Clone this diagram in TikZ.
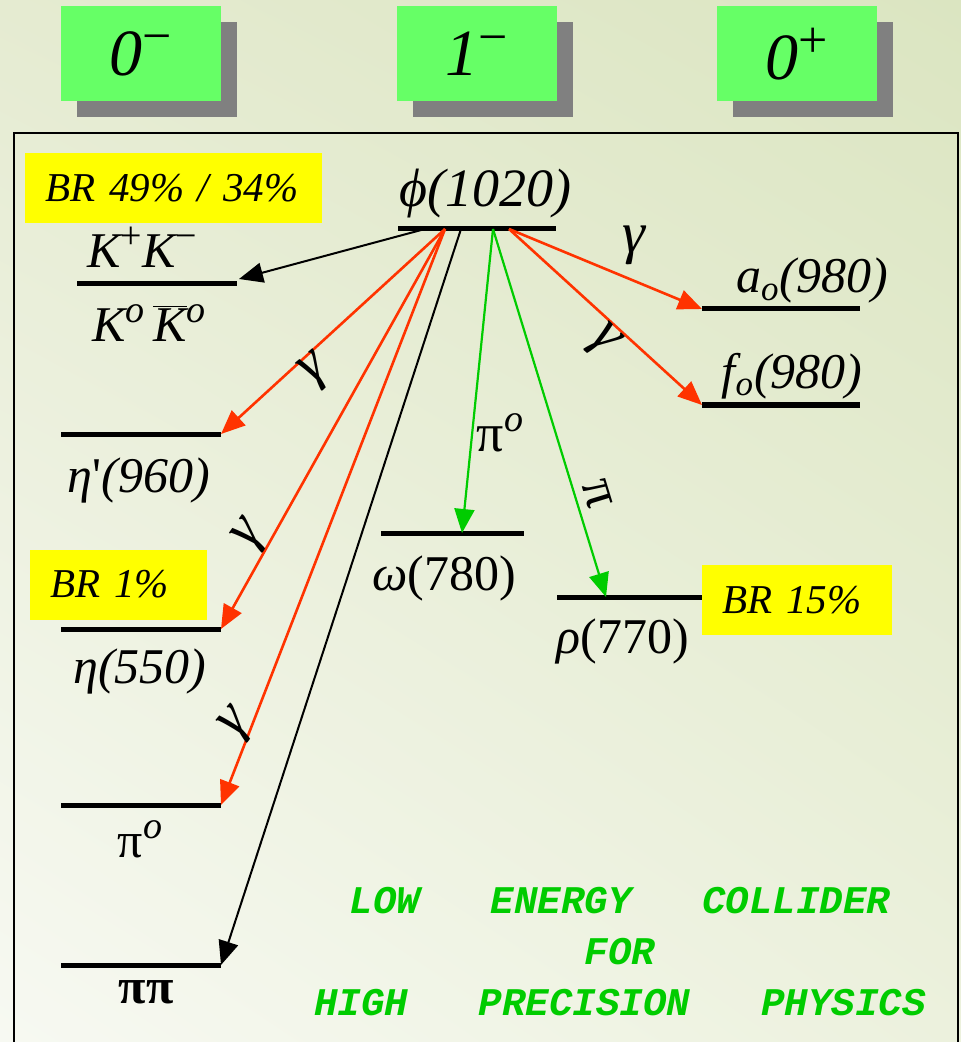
\documentclass[tikz,border=0pt]{standalone}
\usepackage{fontspec}
\setmainfont{Liberation Serif}
\setmonofont{Liberation Mono}
\usetikzlibrary{arrows.meta,shadows,shadings}

\definecolor{jpgreen}{HTML}{66FF66}
\definecolor{bryellow}{HTML}{FFFF00}
\definecolor{gamred}{HTML}{FF3300}
\definecolor{pigreen}{HTML}{00CC00}
\definecolor{bgUL}{HTML}{E5EBD1}
\definecolor{bgUR}{HTML}{DBE5C1}
\definecolor{bgLL}{HTML}{F7F9F2}
\definecolor{bgLR}{HTML}{ECF1DD}

% raised indices, a bit larger than \textsuperscript
\newcommand\jpsup[1]{\raisebox{0.33em}{\fontsize{26}{26}\selectfont\upshape #1}}
\newcommand\ksup[1]{\raisebox{0.38em}{\fontsize{19}{19}\selectfont #1}}

\tikzset{
  jpbox/.style={fill=jpgreen, minimum width=80pt, minimum height=47.5pt, inner sep=0pt,
    drop shadow={shadow xshift=8pt, shadow yshift=-8pt, fill=black!50, opacity=1},
    font=\fontsize{33}{36}\selectfont\itshape},
  brbox/.style={fill=bryellow, anchor=west, align=left, inner xsep=10pt, minimum height=35pt,
    font=\fontsize{20.5}{24}\selectfont\itshape},
  levelline/.style={line width=2.5pt},
  lvltext/.style={anchor=base, inner sep=0pt, font=\fontsize{25}{28}\selectfont},
  glabel/.style={inner sep=0pt, font=\fontsize{29}{30}\selectfont\itshape},
  decay/.style={-{Triangle[length=12pt,width=10pt]}},
  redarr/.style={decay, draw=gamred, fill=gamred, line width=1.3pt},
  grnarr/.style={decay, draw=pigreen, fill=pigreen, line width=1.1pt},
  blkarr/.style={decay, draw=black, line width=1pt},
  motto/.style={align=center, text=pigreen,
    font=\fontsize{19.6}{25.5}\selectfont\ttfamily\bfseries\itshape}
}

\begin{document}
\begin{tikzpicture}[x=0.5pt,y=-0.5pt]
  \useasboundingbox (0,0) rectangle (961,1042);
  % background and frame
  \shade[upper left=bgUL, upper right=bgUR, lower left=bgLL, lower right=bgLR]
    (0,0) rectangle (961,1042);
  \draw[line width=0.7pt] (14,133) rectangle (958,1060);

  % spin-parity headers
  \node[jpbox] (jp0m) at (141,54) {0\jpsup{−}};
  \node[jpbox] (jp1m) at (477,54) {1\jpsup{−}};
  \node[jpbox] (jp0p) at (797,54) {0\jpsup{+}};

  % levels
  \coordinate (kkL) at (77,284);    \coordinate (kkR) at (237,284);
  \coordinate (phiL) at (398,229);  \coordinate (phiR) at (556,229);
  \coordinate (a0L) at (702,309);   \coordinate (a0R) at (860,309);
  \coordinate (f0L) at (702,405);   \coordinate (f0R) at (860,405);
  \coordinate (etapL) at (61,434);  \coordinate (etapR) at (221,434);
  \coordinate (etaL) at (61,629);   \coordinate (etaR) at (221,629);
  \coordinate (pizL) at (61,805);   \coordinate (pizR) at (221,805);
  \coordinate (pipiL) at (61,965);  \coordinate (pipiR) at (221,965);
  \coordinate (omgL) at (381,533);  \coordinate (omgR) at (524,533);
  \coordinate (rhoL) at (557,597);  \coordinate (rhoR) at (702,597);
  \foreach \a/\b in {kkL/kkR, phiL/phiR, a0L/a0R, f0L/f0R, etapL/etapR,
                     etaL/etaR, pizL/pizR, pipiL/pipiR, omgL/omgR, rhoL/rhoR}
    \draw[levelline] (\a) -- (\b);

  % branching ratios
  \node[brbox, text width=128.5pt] (brKK) at (25,188) {\mbox{BR 49\% / 34\%}};
  \node[brbox, text width=68.5pt] (brEta) at (30,584.5) {\mbox{BR 1\%}};
  \node[brbox, text width=75pt] (brRho) at (702,600) {\mbox{BR 15\%}};

  % level names
  \node[lvltext] (kkTxt) at (142,268) {\itshape K\ksup{\upshape +}K\ksup{\upshape −}};
  \node[lvltext] (k0Txt) at (149,342) {\itshape K\ksup{o}\,$\overline{\hbox{K}}$\ksup{o}};
  \node[lvltext, font=\fontsize{27}{30}\selectfont] (phiTxt) at (485,207) {\itshape ϕ(1020)};
  \node[lvltext] (a0Txt) at (812,293) {\itshape a\textsubscript{o}(980)};
  \node[lvltext] (f0Txt) at (792,388) {\itshape f\textsubscript{o}(980)};
  \node[lvltext] (etapTxt) at (139,492) {\textit{η}\textquotesingle\textit{(960)}};
  \node[lvltext] (etaTxt) at (140,683) {\textit{η(550)}};
  \node[lvltext] (pizTxt) at (140,857) {π\ksup{\itshape o}};
  \node[lvltext] (pipiTxt) at (146,1003) {\bfseries ππ};
  \node[lvltext] (omgTxt) at (444,590) {\textit{ω}(780)};
  \node[lvltext] (rhoTxt) at (623,653) {\textit{ρ}(770)};

  % decays
  \coordinate (phiK) at (425,229);
  \coordinate (phiG) at (445,229);
  \coordinate (phiP) at (461,229);
  \coordinate (phiW) at (493,229);
  \coordinate (phiS) at (509,229);
  \coordinate (kkT) at (239,279);
  \coordinate (omgT) at (462,533);
  \coordinate (rhoT) at (606,597);

  \draw[blkarr] (phiK) -- (kkT);
  \draw[redarr] (phiG) -- (etapR);
  \draw[redarr] (phiG) -- (etaR);
  \draw[redarr] (phiG) -- (pizR);
  \draw[blkarr] (phiP) -- (pipiR);
  \draw[grnarr] (phiW) -- (omgT);
  \draw[grnarr] (phiW) -- (rhoT);
  \draw[redarr] (phiS) -- (a0L);
  \draw[redarr] (phiS) -- (f0L);

  % decay labels
  \node[glabel] (gA0) at (634,245) {γ};
  \node[glabel, rotate=-45] (gF0) at (603,342) {γ};
  \node[glabel, rotate=40] (gEtap) at (316,372) {γ};
  \node[glabel, rotate=55] (gEta) at (251,536) {γ};
  \node[glabel, rotate=50] (gPiz) at (237,725) {γ};
  \node[lvltext, anchor=center, font=\fontsize{27}{28}\selectfont] (piW) at (500,433) {π\ksup{\itshape o}};
  \node[glabel, font=\fontsize{27}{28}\selectfont, rotate=-73] (piR) at (597,494) {π};

  % motto
  \node[motto] (mottoTxt) at (620,952)
    {LOW\ \ \ ENERGY\ \ \ COLLIDER\\FOR\\HIGH\ \ \ PRECISION\ \ \ PHYSICS};
\end{tikzpicture}
\end{document}
